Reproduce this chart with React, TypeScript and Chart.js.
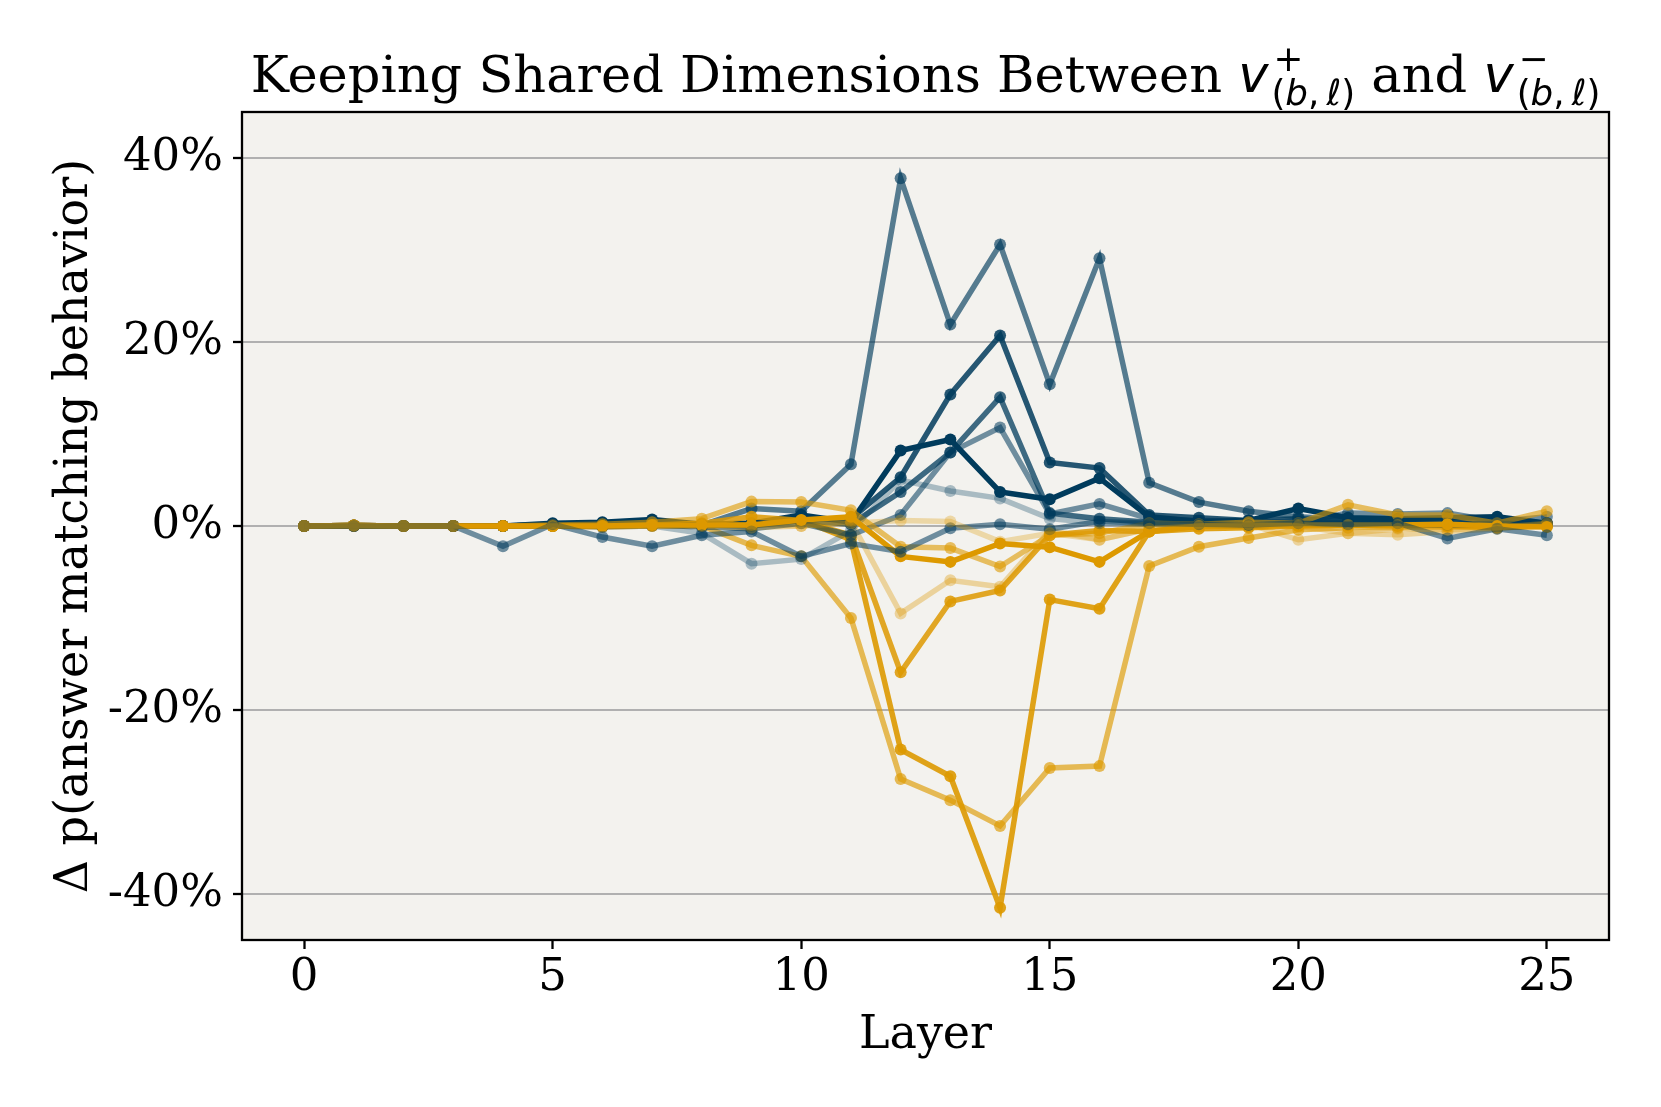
import React, { useEffect, useRef } from "react";
import { Chart, registerables } from "chart.js";

Chart.register(...registerables);

// ---------- data ----------
const layers = [0, 1, 2, 3, 4, 5, 6, 7, 8, 9, 10, 11, 12, 13, 14, 15, 16, 17, 18, 19, 20, 21, 22, 23, 24, 25];
const xTickValues = [0, 5, 10, 15, 20, 25];
const yTickValues = [-40, -20, 0, 20, 40];

// positive steering (blue)
const posA = [0, 0.05, 0, 0, 0, 0.2, 0.2, 0.3, 0.1, 1.9, 1.6, 6.7, 37.8, 21.9, 30.6, 15.4, 29.1, 4.7, 2.6, 1.6, 1.0, 0.7, 0.5, 0.3, 0.3, 0.1];
const posB = [0, 0.05, 0, 0, 0, 0.1, 0.2, 0.3, 0.2, 0.3, 0.8, 0.8, 5.3, 14.3, 20.7, 6.9, 6.3, 1.2, 0.9, 0.6, 0.8, 0.6, 0.5, 0.6, 0.7, 0.3];
const posC = [0, 0.05, 0, 0, 0, 0.3, 0.4, 0.7, 0.2, 0.3, 1.2, 0.4, 8.2, 9.4, 3.7, 2.9, 5.2, 1.0, 0.5, 0.6, 1.9, 0.9, 0.8, 0.9, 1.0, 0.3];
const posD = [0, 0, 0, 0, 0, 0.1, 0.1, 0.2, 0.1, 0.0, 0.6, 0.2, 3.7, 8.0, 14.0, 1.4, 0.8, 0.4, 0.3, 0.2, 0.3, 0.3, 0.2, 0.1, 0.2, 0.2];
const posE = [0, 0, 0, 0, 0, 0.1, 0.0, 0.1, -0.1, -0.3, 0.3, -1.0, 1.2, 8.0, 10.7, 1.3, 2.4, 0.8, 0.6, 0.5, 0.4, 1.4, 1.3, 1.4, 0.5, 1.0];
const posF = [0, 0, 0, 0, 0, 0, -0.1, 0, -0.8, -4.1, -3.6, -0.5, 5.0, 3.8, 3.0, 0.8, 0.3, 0.2, 0.1, 0.0, 0.2, 0.3, 0.3, 0.2, 0.3, 0.2];
const posG = [0, 0, 0, 0, -2.2, 0.2, -1.2, -2.2, -1.0, -0.6, -3.3, -1.9, -2.8, -0.25, 0.2, -0.35, 0.5, 0.3, 0.2, 0.1, 0.3, 0.2, 0.3, -1.35, -0.3, -1.0];

// negative steering (orange)
const negA = [0, 0.05, 0, 0, 0, 0, 0, 0.1, 0.2, 0.1, 0.65, -1.5, -24.3, -27.2, -41.5, -8.0, -9.0, -0.6, -0.3, -0.2, 0.0, 0.1, 0.1, 0.0, -0.2, 0.0];
const negB = [0, 0.05, 0, 0, 0, 0, -0.1, 0, 0, -2.1, -3.3, -10.0, -27.5, -29.8, -32.6, -26.3, -26.1, -4.35, -2.25, -1.3, -0.4, -0.2, -0.2, -0.1, -0.1, 0.0];
const negC = [0, 0.05, 0, 0, 0, 0, 0, 0.1, 0.3, 1.0, 0.6, -1.0, -15.9, -8.2, -7.0, -1.0, -0.5, -0.6, 0.0, 0.0, 0.1, 0.1, 0.0, 0.1, 0.0, 0.1];
const negD = [0, 0, 0, 0, 0, 0, 0, 0, 0.1, 0.1, 0.0, 0.5, -9.5, -5.9, -6.6, -0.5, -1.5, -0.3, 0.0, 0.2, -1.5, -0.8, -0.95, -0.6, -0.3, 0.2];
const negE = [0, 0.05, 0, 0, 0, 0.1, 0.2, 0.4, 0.8, 2.65, 2.6, 1.7, -2.25, -2.4, -4.4, -1.0, -0.8, 0.3, 0.2, 0.4, 0.3, 2.3, 1.2, 1.2, 0.3, 1.6];
const negF = [0, 0.05, 0, 0, 0, 0, 0, 0.1, 0.1, 0.1, 0.65, 1.0, -3.3, -3.9, -1.9, -2.3, -3.9, -0.6, 0.0, 0.0, 0.1, 0.1, 0.1, 0.2, 0.0, -0.1];
const negG = [0, 0, 0, 0, 0, 0, 0, 0, 0, -0.2, 0.0, 0.3, 0.6, 0.5, -1.7, -0.8, -1.5, -0.3, 0.0, 0.2, 0.0, -0.8, -0.3, -0.4, -0.2, 0.3];

// ---------- styles ----------
const BLUE = "0,59,92";
const ORANGE = "221,153,0";
// drawn in this order (later on top)
const seriesList = [
  { values: posA, rgb: BLUE, alpha: 0.65 },
  { values: negA, rgb: ORANGE, alpha: 0.9 },
  { values: posB, rgb: BLUE, alpha: 0.85 },
  { values: negB, rgb: ORANGE, alpha: 0.65 },
  { values: posC, rgb: BLUE, alpha: 1.0 },
  { values: negC, rgb: ORANGE, alpha: 0.85 },
  { values: posD, rgb: BLUE, alpha: 0.75 },
  { values: negD, rgb: ORANGE, alpha: 0.35 },
  { values: posE, rgb: BLUE, alpha: 0.55 },
  { values: negE, rgb: ORANGE, alpha: 0.6 },
  { values: posF, rgb: BLUE, alpha: 0.3 },
  { values: negF, rgb: ORANGE, alpha: 1.0 },
  { values: posG, rgb: BLUE, alpha: 0.55 },
  { values: negG, rgb: ORANGE, alpha: 0.3 },
];

const W = 1661;
const H = 1107;
const PLOT_LEFT = 242;
const PLOT_RIGHT = 1609;
const PLOT_TOP = 112;
const PLOT_BOTTOM = 940;
const TICK_FONT = 45;
const LABEL_FONT = 46;
const TITLE_FONT = 51;

const decorPlugin = {
  id: "decor",
  beforeDraw(chart: any) {
    const { ctx, chartArea } = chart;
    ctx.save();
    ctx.fillStyle = "#ffffff";
    ctx.fillRect(0, 0, chart.width, chart.height);
    ctx.fillStyle = "#f3f2ee";
    ctx.fillRect(chartArea.left, chartArea.top, chartArea.right - chartArea.left, chartArea.bottom - chartArea.top);
    ctx.restore();
  },
  afterDraw(chart: any) {
    const { ctx, chartArea } = chart;
    ctx.save();
    // spines
    ctx.strokeStyle = "#000";
    ctx.lineWidth = 2.3;
    ctx.strokeRect(chartArea.left, chartArea.top, chartArea.right - chartArea.left, chartArea.bottom - chartArea.top);

    // x label
    ctx.fillStyle = "#000";
    ctx.font = `${LABEL_FONT}px "DejaVu Serif"`;
    ctx.textAlign = "center";
    ctx.textBaseline = "alphabetic";
    const cx = (chartArea.left + chartArea.right) / 2;
    ctx.fillText("Layer", cx, 1048);

    // y label
    const cy = (chartArea.top + chartArea.bottom) / 2;
    ctx.save();
    ctx.translate(87, cy);
    ctx.rotate(-Math.PI / 2);
    ctx.textAlign = "center";
    ctx.textBaseline = "alphabetic";
    ctx.fillText("Δ p(answer matching behavior)", 0, 0);
    ctx.restore();

    // title with math
    const serif = `${TITLE_FONT}px "DejaVu Serif"`;
    const mathIt = `oblique ${TITLE_FONT}px "DejaVu Sans"`;
    const ss = TITLE_FONT * 0.7;
    const scUp = `${ss}px "DejaVu Sans"`;
    const scIt = `oblique ${ss}px "DejaVu Sans"`;
    const base = 92;
    const supDy = -21;
    const subDy = 13;
    type Piece = { t: string; f: string };
    const subPieces: Piece[] = [
      { t: "(", f: scUp },
      { t: "b", f: scIt },
      { t: ",", f: scUp },
      { t: "\u2009", f: scUp },
      { t: "ℓ", f: scIt },
      { t: ")", f: scUp },
    ];
    const measure = (p: Piece[]) =>
      p.reduce((acc, q) => {
        ctx.font = q.f;
        return acc + ctx.measureText(q.t).width;
      }, 0);
    const subW = measure(subPieces);
    ctx.font = scUp;
    const plusW = ctx.measureText("+").width;
    const minusW = ctx.measureText("−").width;
    ctx.font = serif;
    const t1 = "Keeping Shared Dimensions Between ";
    const t2 = " and ";
    const t1W = ctx.measureText(t1).width;
    const t2W = ctx.measureText(t2).width;
    ctx.font = mathIt;
    const vW = ctx.measureText("v").width;
    const gap = 3;
    const m1W = vW + gap + Math.max(plusW, subW);
    const m2W = vW + gap + Math.max(minusW, subW);
    const total = t1W + m1W + t2W + m2W;
    let x = cx - total / 2;
    ctx.textAlign = "left";
    ctx.textBaseline = "alphabetic";
    const drawMath = (sup: string, supW: number) => {
      ctx.font = mathIt;
      ctx.fillText("v", x, base);
      const sx = x + vW + gap;
      ctx.font = scUp;
      ctx.fillText(sup, sx + 2, base + supDy);
      let px = sx;
      for (const q of subPieces) {
        ctx.font = q.f;
        ctx.fillText(q.t, px, base + subDy);
        px += ctx.measureText(q.t).width;
      }
      x = sx + Math.max(supW, subW);
    };
    ctx.font = serif;
    ctx.fillText(t1, x, base);
    x += t1W;
    drawMath("+", plusW);
    ctx.font = serif;
    ctx.fillText(t2, x, base);
    x += t2W;
    drawMath("−", minusW);
    ctx.restore();
  },
};

export default function App() {
  const canvasRef = useRef<HTMLCanvasElement | null>(null);

  useEffect(() => {
    document.body.style.margin = "0";
    const canvas = canvasRef.current;
    if (!canvas) return;
    const datasets = seriesList.map((s, i) => {
      const col = `rgba(${s.rgb},${s.alpha})`;
      return {
        data: layers.map((x, j) => ({ x, y: s.values[j] })),
        borderColor: col,
        backgroundColor: col,
        pointBackgroundColor: col,
        pointBorderColor: col,
        pointBorderWidth: 0,
        pointRadius: 6,
        borderWidth: 5.5,
        tension: 0,
        order: seriesList.length - i,
      };
    });
    const chart = new Chart(canvas, {
      type: "line",
      data: { datasets },
      plugins: [decorPlugin],
      options: {
        animation: false,
        responsive: false,
        devicePixelRatio: 1,
        layout: { padding: { left: 0, top: PLOT_TOP, right: W - PLOT_RIGHT, bottom: 0 } },
        plugins: { legend: { display: false }, tooltip: { enabled: false }, title: { display: false } },
        scales: {
          x: {
            type: "linear",
            min: -1.25,
            max: 26.25,
            afterBuildTicks: (scale: any) => {
              scale.ticks = xTickValues.map((v) => ({ value: v }));
            },
            afterFit: (scale: any) => {
              scale.height = H - PLOT_BOTTOM;
            },
            ticks: {
              font: { family: "DejaVu Serif", size: TICK_FONT },
              color: "#000",
              padding: 2,
              maxRotation: 0,
              autoSkip: false,
              callback: (v: any) => String(v),
            },
            grid: {
              drawOnChartArea: false,
              drawTicks: true,
              tickLength: 9,
              tickColor: "#000",
              tickWidth: 2.3,
            },
            border: { display: false },
          },
          y: {
            type: "linear",
            min: -45,
            max: 45,
            afterBuildTicks: (scale: any) => {
              scale.ticks = yTickValues.map((v) => ({ value: v }));
            },
            afterFit: (scale: any) => {
              scale.width = PLOT_LEFT;
            },
            ticks: {
              font: { family: "DejaVu Serif", size: TICK_FONT },
              color: "#000",
              padding: 10,
              autoSkip: false,
              callback: (v: any) => `${v}%`,
            },
            grid: {
              color: "#b0b0b0",
              lineWidth: 2,
              drawTicks: true,
              tickLength: 9,
              tickColor: "#000",
              tickWidth: 2.3,
            },
            border: { display: false },
          },
        },
      },
    });
    return () => chart.destroy();
  }, []);

  return (
    <div style={{ width: W, height: H, background: "#fff" }}>
      <canvas ref={canvasRef} width={W} height={H} style={{ width: W, height: H, display: "block" }} />
    </div>
  );
}
